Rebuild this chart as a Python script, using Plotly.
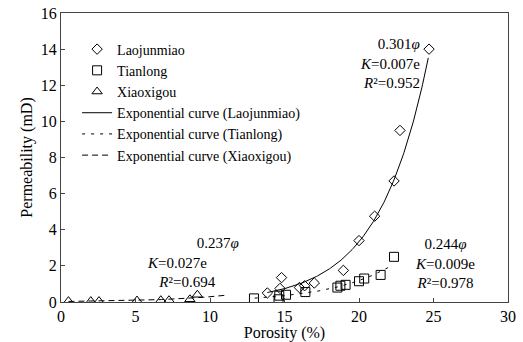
import numpy as np
import plotly.graph_objects as go

# ---- data ----
lao_x = [13.85, 14.7, 14.8, 16.0, 16.35, 17.0, 18.95, 20.0, 21.05, 22.35, 22.75, 24.7]
lao_y = [0.5, 0.75, 1.35, 0.8, 0.9, 1.05, 1.75, 3.4, 4.75, 6.7, 9.5, 14.0]

tian_x = [12.95, 14.6, 14.65, 15.1, 16.4, 18.55, 18.75, 19.1, 20.0, 20.35, 21.45, 22.35]
tian_y = [0.2, 0.15, 0.35, 0.4, 0.55, 0.8, 0.9, 0.95, 1.15, 1.3, 1.5, 2.5]

xiao_x = [0.5, 2.0, 2.55, 5.1, 6.7, 7.25, 8.65, 9.15]
xiao_y = [0.05, 0.05, 0.05, 0.08, 0.1, 0.1, 0.15, 0.4]

# exponential fit curves as drawn: K = a * exp(b * phi), over drawn range
lao_fit = dict(a=0.0081, b=0.301, x0=13.85, x1=24.65)
tian_fit = dict(a=0.009, b=0.244, x0=13.0, x1=22.3)
xiao_fit = dict(a=0.027, b=0.237, x0=0.5, x1=11.2)

x_ticks = [0, 5, 10, 15, 20, 25, 30]
y_ticks = [0, 2, 4, 6, 8, 10, 12, 14, 16]

FONT = "Liberation Serif"


def curve(p):
    xs = np.linspace(p["x0"], p["x1"], 200)
    return xs, p["a"] * np.exp(p["b"] * xs)


fig = go.Figure()
fig.add_trace(go.Scatter(x=lao_x, y=lao_y, mode="markers", name="Laojunmiao",
                         marker=dict(symbol="diamond-open", size=8, color="black",
                                     line=dict(width=1))))
fig.add_trace(go.Scatter(x=tian_x, y=tian_y, mode="markers", name="Tianlong",
                         marker=dict(symbol="square-open", size=9, color="black",
                                     line=dict(width=1))))
fig.add_trace(go.Scatter(x=xiao_x, y=xiao_y, mode="markers", name="Xiaoxigou",
                         marker=dict(symbol="triangle-up-open", size=9, color="black",
                                     line=dict(width=1))))

cx, cy = curve(lao_fit)
fig.add_trace(go.Scatter(x=cx, y=cy, mode="lines", name="Exponential curve (Laojunmiao)",
                         line=dict(color="black", width=1)))
cx, cy = curve(tian_fit)
fig.add_trace(go.Scatter(x=cx, y=cy, mode="lines", name="Exponential curve (Tianlong)",
                         line=dict(color="black", width=1, dash="3px,6px")))
cx, cy = curve(xiao_fit)
fig.add_trace(go.Scatter(x=cx, y=cy, mode="lines", name="Exponential curve (Xiaoxigou)",
                         line=dict(color="black", width=1, dash="6px,4px")))

ann_font = dict(family=FONT, size=15, color="black")
annots = [
    (24.15, 13.2, "0.301<i>φ</i><br><i>K</i>=0.007e<br><i>R</i>²=0.952", "right", "right"),
    (5.71, 2.19, "             0.237<i>φ</i><br><i>K</i>=0.027e<br>   <i>R</i>²=0.694", "left", "left"),
    (25.77, 2.13, "0.244<i>φ</i><br><i>K</i>=0.009e<br><i>R</i>²=0.978", "center", "center"),
]
for x, y, t, xa, al in annots:
    fig.add_annotation(x=x, y=y, text=t, showarrow=False, xanchor=xa, yanchor="middle",
                       align=al, font=ann_font, borderpad=0)

axis_common = dict(showline=True, linecolor="#444", linewidth=1, mirror=True,
                   ticks="inside", ticklen=4, tickcolor="#444", showgrid=False,
                   zeroline=False, automargin=False,
                   tickfont=dict(family=FONT, size=16, color="black"))

fig.update_layout(
    width=523, height=342,
    margin=dict(l=61, r=15, t=13, b=40),
    paper_bgcolor="white", plot_bgcolor="white",
    font=dict(family=FONT, size=15, color="black"),
    xaxis=dict(range=[0, 30], tickvals=x_ticks, **axis_common,
               title=dict(text="Porosity (%)", font=dict(family=FONT, size=16), standoff=2)),
    yaxis=dict(range=[0, 16], tickvals=y_ticks, **axis_common,
               title=dict(text="Permeability (mD)", font=dict(family=FONT, size=16), standoff=4)),
    legend=dict(x=0.036, y=0.929, xanchor="left", yanchor="top", bgcolor="rgba(0,0,0,0)",
                font=dict(family=FONT, size=14, color="black"), itemwidth=30,
                tracegroupgap=0),
    showlegend=True,
)

fig.write_html("out.html")
